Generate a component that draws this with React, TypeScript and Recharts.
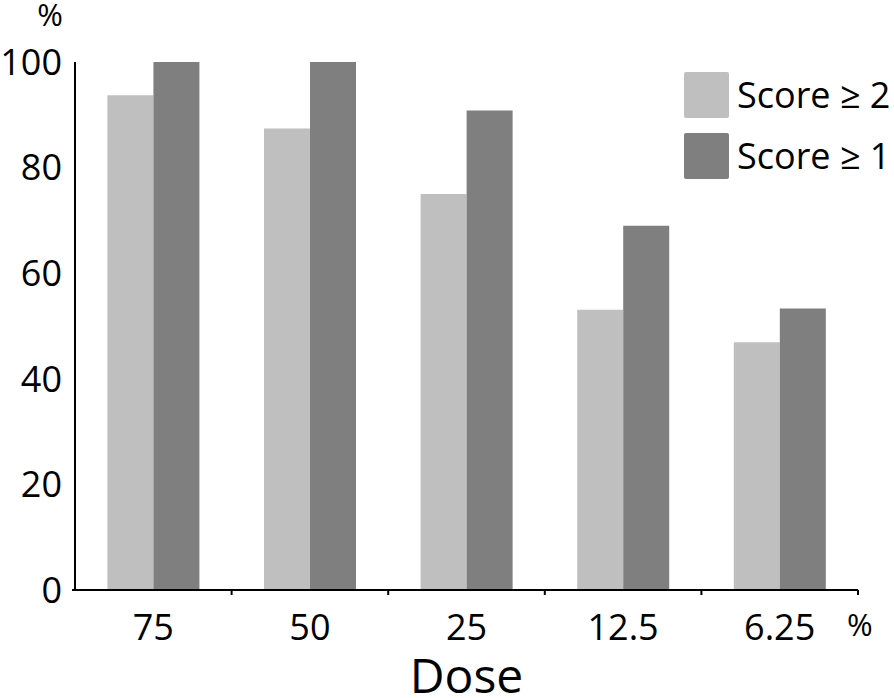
import React from 'react';
import { BarChart, Bar, XAxis, YAxis, Legend, Label } from 'recharts';

// doses and response rates (%)
const doses = ['75', '50', '25', '12.5', '6.25'];
const scoreAtLeast2 = [93.7, 87.4, 75, 53.1, 46.9];
const scoreAtLeast1 = [100, 100, 90.8, 69, 53.3];
const seriesNames = ['Score ≥ 2', 'Score ≥ 1'];
const yTicks = [0, 20, 40, 60, 80, 100];

const FONT = '"Open Sans", sans-serif';

const chartData = doses.map((d, i) => ({
  dose: d,
  s2: scoreAtLeast2[i],
  s1: scoreAtLeast1[i],
}));

const DoseTick = (props: any) => {
  const { x, y, payload, index } = props;
  const off = payload && payload.offset ? payload.offset : 78;
  return (
    <g>
      {index === 0 && <line x1={x - off - 3} x2={x - off} y1={y} y2={y} stroke="#000" strokeWidth={2} />}
      <line x1={x + off} x2={x + off} y1={y} y2={y + 5} stroke="#000" strokeWidth={2} />
      <text x={x} y={y + 36} textAnchor="middle" dominantBaseline="central" fontSize={36} fontFamily={FONT} fill="#000">
        {payload.value}
      </text>
    </g>
  );
};

const LegendBox = (props: any) => {
  const items = props.payload || [];
  return (
    <div style={{ fontFamily: FONT }}>
      {items.map((it: any) => (
        <div key={it.value} style={{ display: 'flex', alignItems: 'center', height: 61 }}>
          <div
            style={{
              width: 45,
              height: 46,
              background: it.color,
              borderRadius: 2,
              marginRight: 8,
            }}
          />
          <span style={{ fontSize: 36, color: '#000', whiteSpace: 'nowrap' }}>{it.value}</span>
        </div>
      ))}
    </div>
  );
};

export default function App() {
  return (
    <div style={{ position: 'absolute', left: 0, top: 0, width: 894, height: 698, background: '#fff' }}>
      <BarChart
        width={894}
        height={698}
        data={chartData}
        margin={{ top: 62, right: 36, bottom: 38, left: 15 }}
        barCategoryGap="20.7%"
        barGap={0}
      >
        <XAxis
          dataKey="dose"
          height={70}
          axisLine={{ stroke: '#000', strokeWidth: 2 }}
          tickLine={false}
          tickSize={0}
          tickMargin={0}
          tick={<DoseTick />}
          interval={0}
        >
          <Label value="Dose" position="bottom" offset={-1} fontSize={48} fontFamily={FONT} fill="#000" />
          <Label value="%" position="right" offset={-11} fontSize={31} fontFamily={FONT} fill="#000" />
        </XAxis>
        <YAxis
          width={60}
          domain={[0, 100]}
          ticks={yTicks}
          interval={0}
          axisLine={{ stroke: '#000', strokeWidth: 2 }}
          tickLine={false}
          tickSize={0}
          tickMargin={13}
          tick={{ fontSize: 36, fontFamily: FONT, fill: '#000' }}
        >
          <Label value="%" position="top" offset={36} dx={5} fontSize={31} fontFamily={FONT} fill="#000" />
        </YAxis>
        <Legend
          layout="vertical"
          align="center"
          verticalAlign="middle"
          itemSorter={(it: any) => seriesNames.indexOf(it.value)}
          content={<LegendBox />}
          wrapperStyle={{ top: 64, left: 684, width: 210 }}
        />
        <Bar dataKey="s2" name={seriesNames[0]} fill="#bfbfbf" isAnimationActive={false} />
        <Bar dataKey="s1" name={seriesNames[1]} fill="#7f7f7f" isAnimationActive={false} />
      </BarChart>
    </div>
  );
}
